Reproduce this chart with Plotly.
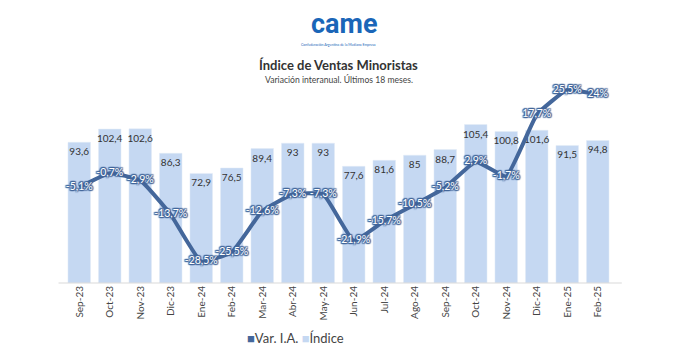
import plotly.graph_objects as go

months = ["Sep-23", "Oct-23", "Nov-23", "Dic-23", "Ene-24", "Feb-24", "Mar-24", "Abr-24", "May-24",
          "Jun-24", "Jul-24", "Ago-24", "Sep-24", "Oct-24", "Nov-24", "Dic-24", "Ene-25", "Feb-25"]
indice = [93.6, 102.4, 102.6, 86.3, 72.9, 76.5, 89.4, 93, 93, 77.6, 81.6, 85, 88.7, 105.4, 100.8, 101.6, 91.5, 94.8]
var_ia = [-5.1, -0.7, -2.9, -13.7, -28.5, -25.5, -12.6, -7.3, -7.3, -21.9, -15.7, -10.5, -5.2, 2.9, -1.7, 17.7, 25.5, 24]

def fmt(v):
    s = ("%.1f" % v).rstrip("0").rstrip(".")
    return s.replace(".", ",")

bar_col = "#c5d8f2"
line_col = "#44679b"
FONT = "Lato"
W, H = 694, 354
L, R, T, B = 64, 613, 80, 283
PW, PH = R - L, B - T

sh = ", ".join(f"{dx}px {dy}px 1px {line_col}" for dx, dy in
               [(1, 0), (-1, 0), (0, 1), (0, -1), (1, 1), (-1, -1), (1, -1), (-1, 1)])

fig = go.Figure()
fig.add_trace(go.Bar(
    x=months, y=indice, name="Índice", marker_color=bar_col, width=0.74,
    text=[fmt(v) for v in indice], textposition="inside", insidetextanchor="end",
    textangle=0, constraintext="none",
    textfont=dict(family=FONT, size=10, color="#333333"),
    showlegend=False, yaxis="y"))
fig.add_trace(go.Scatter(
    x=months, y=var_ia, name="Var. I.A.", mode="lines+text",
    line=dict(color=line_col, width=4, shape="spline", smoothing=0.35),
    text=[fmt(v) + "%" for v in var_ia], textposition="middle center",
    textfont=dict(family=FONT, size=10.5, color="white", shadow=sh),
    showlegend=False, yaxis="y2", cliponaxis=False))

fig.update_layout(
    width=W, height=H,
    margin=dict(l=L, r=W - R, t=T, b=H - B, autoexpand=False),
    paper_bgcolor="white", plot_bgcolor="white",
    font=dict(family=FONT, color="#444444"),
    showlegend=False,
    xaxis=dict(type="category", range=[-0.5, 17.5], tickangle=-90,
               tickfont=dict(family=FONT, size=10, color="#444444"),
               showline=False, ticks="", showgrid=False, automargin=False),
    yaxis=dict(range=[0, 135], visible=False, showgrid=False),
    yaxis2=dict(range=[-35.2, 28.6], overlaying="y", visible=False, showgrid=False),
    shapes=[dict(type="line", xref="paper", yref="paper", x0=-0.01, x1=1.016, y0=0, y1=0,
                 line=dict(color="#d9d9d9", width=1))],
    annotations=[
        dict(text="<b>came</b>", xref="paper", yref="paper", x=0.5, y=1, xanchor="center",
             yanchor="middle", showarrow=False, font=dict(family="Roboto", size=27, color="#1a66b8"),
             xshift=6, yshift=(T - 24)),
        dict(text="Confederación Argentina de la Mediana Empresa", xref="paper", yref="paper",
             x=0.5, y=1, yshift=(T - 41), showarrow=False, font=dict(size=3.5, color="#1a66b8")),
        dict(text="<b>Índice de Ventas Minoristas</b>", xref="paper", yref="paper", x=0.5, y=1,
             yshift=(T - 55), showarrow=False, font=dict(family=FONT, size=13, color="#333333")),
        dict(text="Variación interanual. Últimos 18 meses.", xref="paper", yref="paper", x=0.5, y=1,
             yshift=(T - 72), showarrow=False, font=dict(family=FONT, size=8.6, color="#444444")),
        dict(text=f"<span style='color:{line_col}'>■</span>Var. I.A. "
                  f"<span style='color:{bar_col}'>■</span>Índice",
             xref="paper", yref="paper", x=(295 - L) / PW, y=(B - 338) / PH, xanchor="center",
             yanchor="middle", showarrow=False, font=dict(family=FONT, size=13, color="#444444")),
    ],
)
fig.write_html("out.html")
